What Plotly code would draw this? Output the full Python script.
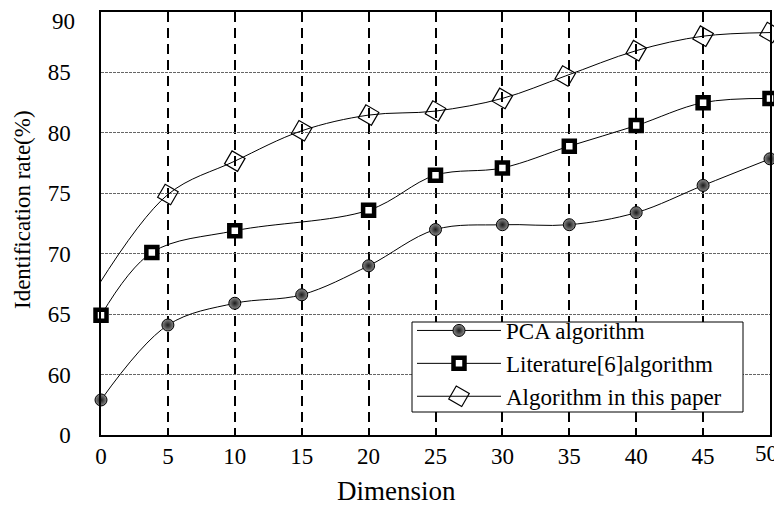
import plotly.graph_objects as go

# ---- data ----
pca_x = [0, 5, 10, 15, 20, 25, 30, 35, 40, 45, 50]
pca_y = [57.9, 64.1, 65.9, 66.6, 69.0, 72.0, 72.4, 72.4, 73.4, 75.65, 77.85]

lit_x = [0, 3.8, 10, 20, 25, 30, 35, 40, 45, 50]
lit_y = [64.9, 70.1, 71.9, 73.6, 76.5, 77.1, 78.9, 80.6, 82.5, 82.85]

ours_x = [-0.25, 5, 10, 15, 20, 25, 30, 34.7, 40, 45, 50]
ours_y = [67.3, 74.9, 77.66, 80.17, 81.47, 81.8, 82.85, 84.7, 86.8, 88.0, 88.3]

x_ticks = [0, 5, 10, 15, 20, 25, 30, 35, 40, 45, 50]
y_tickvals = [55, 60, 65, 70, 75, 80, 85, 90]
y_ticktext = ["0", "60", "65", "70", "75", "80", "85", "90"]

FONT = "Liberation Serif, Times New Roman, serif"

# page body has an 8px margin: figure is drawn at (8, 8) in the window
W, H = 774, 498
PL, PT, PR, PB = 101 - 8, 12 - 8, 770 - 8, 435 - 8   # plot area in figure px


def px(xp):
    return (xp - 8 - PL) / (PR - PL)


def py(yp):
    return (PB - (yp - 8)) / (PB - PT)


fig = go.Figure()

fig.add_trace(go.Scatter(
    x=pca_x, y=pca_y, name="PCA algorithm", mode="lines+markers",
    line=dict(color="black", width=1, shape="spline", smoothing=1.0),
    marker=dict(symbol="circle", size=12, color="#8a8a8a",
                gradient=dict(type="radial", color="#1a1a1a"),
                line=dict(color="black", width=1)),
    cliponaxis=False,
))
fig.add_trace(go.Scatter(
    x=lit_x, y=lit_y, name="Literature[6]algorithm", mode="lines+markers",
    line=dict(color="black", width=1, shape="spline", smoothing=1.0),
    marker=dict(symbol="square", size=11, color="white",
                line=dict(color="black", width=4.5)),
    cliponaxis=False,
))
fig.add_trace(go.Scatter(
    x=ours_x, y=ours_y, name="Algorithm in this paper", mode="lines+markers",
    line=dict(color="black", width=1, shape="spline", smoothing=1.0),
    marker=dict(symbol="square-open", size=15, angle=30, color="black",
                line=dict(color="black", width=1.2)),
    cliponaxis=False,
))

# the "90" and "50" labels sit slightly inward of their ticks in the reference
y_ticktext_axis = [t if v != 90 else "" for v, t in zip(y_tickvals, y_ticktext)]
x_ticktext_axis = [str(v) if v != 50 else "" for v in x_ticks]

fig.update_layout(
    width=W, height=H,
    margin=dict(l=PL, r=W - PR, t=PT, b=H - PB, autoexpand=False),
    plot_bgcolor="white", paper_bgcolor="white",
    font=dict(family=FONT, color="black", size=23),
    showlegend=True,
    legend=dict(
        x=px(412), y=py(309), xanchor="left", yanchor="top",
        bgcolor="rgba(0,0,0,0)", borderwidth=0,
        font=dict(family=FONT, size=23, color="black"),
        traceorder="normal", itemwidth=84,
    ),
    shapes=[
        dict(type="rect", xref="paper", yref="paper",
             x0=px(412), x1=px(743), y0=py(412), y1=py(322),
             fillcolor="white", line=dict(color="black", width=1), layer="above"),
    ],
    xaxis=dict(
        range=[0, 50], tickmode="array", tickvals=x_ticks,
        ticktext=x_ticktext_axis, automargin=False,
        showline=True, linecolor="black", linewidth=1.5, mirror=True,
        ticks="inside", ticklen=6, tickcolor="black", tickwidth=1,
        showgrid=True, gridcolor="black", gridwidth=1.5, griddash="10px,6px",
        zeroline=False, ticklabelstandoff=0, ticklabeloverflow="allow",
        tickfont=dict(family=FONT, size=23),
    ),
    yaxis=dict(
        range=[55, 90], tickmode="array", tickvals=y_tickvals,
        ticktext=y_ticktext_axis, automargin=False,
        showline=True, linecolor="black", linewidth=1.5, mirror=True,
        ticks="", showgrid=True, gridcolor="#666666", gridwidth=1,
        griddash="3px,1px", zeroline=False, ticklabelstandoff=24,
        ticklabeloverflow="allow",
        tickfont=dict(family=FONT, size=23),
    ),
    annotations=[
        dict(text=y_ticktext[-1], xref="paper", yref="paper", x=px(77),
             y=py(21), xanchor="right", yanchor="middle", showarrow=False,
             font=dict(family=FONT, size=23)),
        dict(text=str(x_ticks[-1]), xref="paper", yref="paper", x=px(766),
             y=py(453), xanchor="center", yanchor="middle", showarrow=False,
             font=dict(family=FONT, size=23)),
        dict(text="Dimension", xref="paper", yref="paper", x=px(396),
             y=py(491), xanchor="center", yanchor="middle", showarrow=False,
             font=dict(family=FONT, size=27)),
        dict(text="Identification rate(%)", xref="paper", yref="paper",
             x=px(22), y=py(210), xanchor="center",
             yanchor="middle", textangle=-90, showarrow=False,
             font=dict(family=FONT, size=23)),
    ],
)

fig.write_html("out.html")
